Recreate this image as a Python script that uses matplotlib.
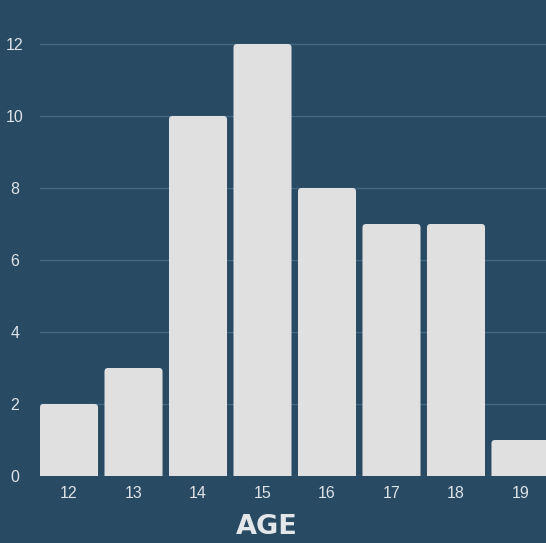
import matplotlib
matplotlib.use("Agg")
import matplotlib.pyplot as plt
from matplotlib.patches import FancyBboxPatch

ages = ["12", "13", "14", "15", "16", "17", "18", "19"]
counts = [2, 3, 10, 12, 8, 7, 7, 1]

BG = "#284a63"
BAR = "#e0e0e0"
GRID = "#456882"
TXT = "#dfe3e7"

W, H = 546, 543
fig = plt.figure(figsize=(W / 100, H / 100), dpi=100, facecolor=BG)
left, right, bottom, top = 40, 549.5, 476, 0
ax = fig.add_axes([left / W, (H - bottom) / H, (right - left) / W, (bottom - top) / H])
ax.set_facecolor(BG)

x = list(range(len(ages)))
bars = ax.bar(x, counts, width=0.9, color=BAR, zorder=2)
ax.set_xlim(-0.45, len(ages) - 0.55)
ax.set_ylim(0, 476 / 36)

# rounded top corners
px_x = (right - left) / (len(ages) - 0.1)  # pixels per x unit
px_y = 36.0
r_px = 3.5
for b in bars:
    b.set_visible(False)
    p = FancyBboxPatch((b.get_x(), -0.3), b.get_width(), b.get_height() + 0.3,
                       boxstyle=f"round,pad=0,rounding_size={r_px / px_x}",
                       mutation_aspect=px_x / px_y, facecolor=BAR, edgecolor="none",
                       zorder=2, clip_on=True)
    ax.add_patch(p)

ax.set_yticks([0, 2, 4, 6, 8, 10, 12])
ax.set_xticks(x)
ax.set_xticklabels(ages)
ax.yaxis.grid(True, color=GRID, linewidth=1, zorder=0)
ax.set_axisbelow(True)
for s in ax.spines.values():
    s.set_visible(False)
ax.tick_params(axis="both", length=0, colors=TXT, labelsize=11.5)
ax.tick_params(axis="y", pad=18)
ax.tick_params(axis="x", pad=7)
for lbl in ax.get_yticklabels() + ax.get_xticklabels():
    lbl.set_family(["Liberation Sans", "DejaVu Sans"])
for lbl in ax.get_yticklabels():
    lbl.set_horizontalalignment("center")
fig.text(267 / W, 1 - 527 / H, "AGE", ha="center", va="center", color="#e4e7ea",
         fontsize=19.5, fontweight="bold", family=["DejaVu Sans"])

fig.savefig("out.png", dpi=100, facecolor=BG)
